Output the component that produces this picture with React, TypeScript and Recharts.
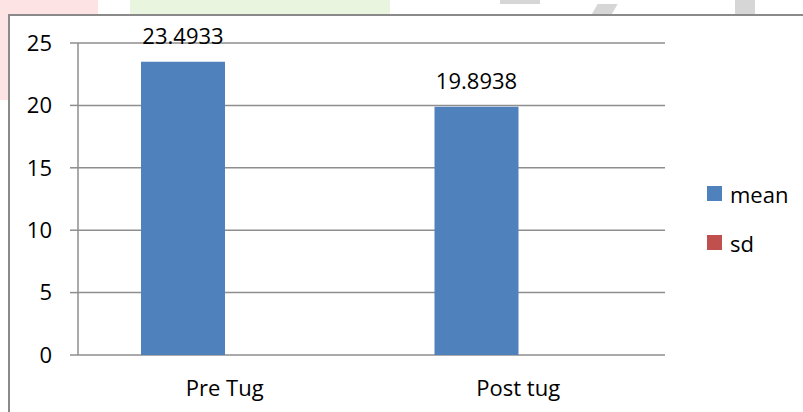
import React from 'react';
import { BarChart, Bar, XAxis, YAxis, CartesianGrid, LabelList } from 'recharts';

const categories = ['Pre Tug', 'Post tug'];
const meanValues = [23.4933, 19.8938];
const sdValues = [0, 0];
const yTicks = [0, 5, 10, 15, 20, 25];
const seriesNames = ['mean', 'sd'];
const seriesColors = ['#4F81BD', '#C0504D'];

const chartData = categories.map((name, i) => ({
  name,
  idx: i + 0.5,
  mean: meanValues[i],
  sd: sdValues[i],
}));

const FONT = '"Open Sans", sans-serif';
const GRID = '#8e8e8e';

const LegendBox = () => (
  <div style={{ position: 'absolute', left: 707, top: 169, fontFamily: FONT, fontSize: 22, color: '#000' }}>
    {seriesNames.map((s, i) => (
      <div key={s} style={{ display: 'flex', alignItems: 'center', height: 49 }}>
        <span style={{ width: 15, height: 15, background: seriesColors[i], marginRight: 8 }} />
        <span>{s}</span>
      </div>
    ))}
  </div>
);

export default function App() {
  return (
    <div style={{ position: 'absolute', left: 0, top: 0, width: 803, height: 412, background: '#fff', overflow: 'hidden' }}>
      {/* faded watermark peeking out above / left of the chart box */}
      <svg width={803} height={412} style={{ position: 'absolute', left: 0, top: 0 }}>
        <rect x={0} y={0} width={98} height={14} fill="#fde3e3" />
        <rect x={0} y={0} width={8} height={100} fill="#fde3e3" />
        <rect x={130} y={0} width={260} height={14} fill="#eaf5df" />
        <rect x={500} y={0} width={40} height={4} fill="#d6d6d6" />
        <rect x={600} y={4} width={20} height={10} fill="#d6d6d6" transform="skewX(-30)" />
        <rect x={735} y={0} width={20} height={14} fill="#d6d6d6" />
      </svg>
      <div
        style={{
          position: 'absolute',
          left: 8,
          top: 14,
          width: 803,
          height: 412,
          borderTop: '2px solid #8a8a8a',
          borderLeft: '2px solid #8a8a8a',
          background: '#fff',
        }}
      />
      <div style={{ position: 'absolute', left: 0, top: 0 }}>
        <BarChart
          width={803}
          height={412}
          data={chartData}
          margin={{ top: 43, right: 138, bottom: 27, left: 8 }}
          barSize={84}
          barGap={0}
        >
          <CartesianGrid horizontal vertical={false} stroke={GRID} strokeWidth={1.5} />
          <XAxis
            xAxisId="edges"
            type="number"
            dataKey="idx"
            domain={[0, 2]}
            ticks={[0, 1, 2]}
            height={0}
            stroke={GRID}
            strokeWidth={1.5}
            tickSize={7}
            tickFormatter={() => ''}
          />
          <XAxis
            dataKey="name"
            height={30}
            axisLine={false}
            tickLine={false}
            tickMargin={25}
            tickSize={0}
            interval={0}
            tick={{ fill: '#000', fontSize: 22, fontFamily: FONT }}
          />
          <YAxis
            width={70}
            domain={[0, 25]}
            ticks={yTicks}
            stroke={GRID}
            strokeWidth={1.5}
            tickSize={8}
            tickMargin={18}
            tick={{ fill: '#000', fontSize: 22, fontFamily: FONT }}
          />
          <Bar dataKey="mean" name="mean" fill={seriesColors[0]} isAnimationActive={false}>
            <LabelList dataKey="mean" position="top" offset={18} fill="#000" fontSize={22} fontFamily={FONT} />
          </Bar>
          <Bar dataKey="sd" name="sd" fill={seriesColors[1]} isAnimationActive={false} />
        </BarChart>
      </div>
      <LegendBox />
    </div>
  );
}
